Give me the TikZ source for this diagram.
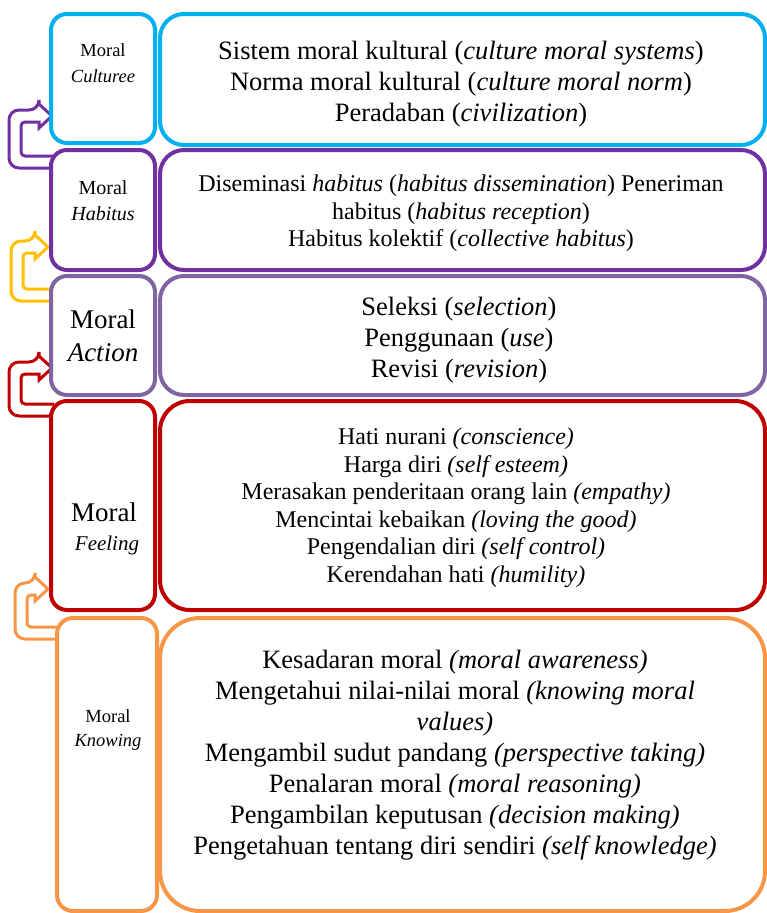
\documentclass[tikz,border=0pt]{standalone}
\usepackage{fontspec}
\setmainfont{Liberation Serif}
\definecolor{cCulture}{HTML}{00B0F0}
\definecolor{cHabitus}{HTML}{7030A0}
\definecolor{cAction}{HTML}{8064A2}
\definecolor{cFeeling}{HTML}{C00000}
\definecolor{cKnowing}{HTML}{F79646}
\definecolor{cYellow}{HTML}{FFC000}
% hollow U-turn arrow: #1 colour, #2 x of vertical leg, #3 y of upper leg,
% #4 y of lower leg, #5 x where the lower leg ends, #6 x of the tip
\newcommand{\uturnarrow}[6]{%
  \draw[line width=3pt, draw=#1, fill=white, line join=miter]
    (#5,#4+6) [rounded corners=10pt] -- (#2-6,#4+6) -- (#2-6,#3-6) -- (#6-13,#3-6)
    [sharp corners] -- (#6-13,#3-12) -- (#6,#3) -- (#6-13,#3+12) -- (#6-13,#3+6)
    [rounded corners=4pt] -- (#2+6,#3+6) -- (#2+6,#4-6) -- (#5,#4-6);}
\begin{document}
\begin{tikzpicture}[x=1pt,y=-1pt,
  lbox/.style={draw=#1, line width=4pt, fill=white, rounded corners=16pt},
  rbox/.style={draw=#1, line width=4pt, fill=white, rounded corners=24pt},
  txt/.style={align=center, inner sep=0pt}]
\useasboundingbox (0,0) rectangle (767,913);

% connecting arrows (drawn first, the boxes cover their ends)
\uturnarrow{cHabitus}{15}{116}{162}{54}{52}
\uturnarrow{cYellow}{17}{247}{295}{54}{48}
\uturnarrow{cFeeling}{15}{368}{410}{54}{52}
\uturnarrow{cKnowing}{21}{589}{633}{58}{48}

% Moral Culture
\draw[lbox=cCulture] (51,14) rectangle (155,143);
\draw[rbox=cCulture] (160,14) rectangle (765,145);
\node[txt, font=\fontsize{18.5}{26}\selectfont] (lc) at (103,63) {Moral\\\textit{Culturee}};
\node[txt, font=\fontsize{26.5}{31}\selectfont] (tc) at (461,84)
  {Sistem moral kultural (\textit{culture moral systems})\\
   Norma moral kultural (\textit{culture moral norm})\\
   Peradaban (\textit{civilization})};

% Moral Habitus
\draw[lbox=cHabitus] (51,150) rectangle (155,270);
\draw[rbox=cHabitus] (160,150) rectangle (765,270);
\node[txt, font=\fontsize{20}{26}\selectfont] (lh) at (103,201) {Moral\\\textit{Habitus}};
\node[txt, font=\fontsize{24}{27.5}\selectfont] (th) at (461,213.5)
  {Diseminasi \textit{habitus} (\textit{habitus dissemination}) Peneriman\\
   habitus (\textit{habitus reception})\\
   Habitus kolektif (\textit{collective habitus})};

% Moral Action
\draw[lbox=cAction] (51,276) rectangle (155,395);
\draw[rbox=cAction] (160,276) rectangle (765,395);
\node[txt, font=\fontsize{27}{33}\selectfont] (la) at (103,336) {Moral\\\textit{Action}};
\node[txt, font=\fontsize{26.5}{31}\selectfont] (ta) at (459,340)
  {Seleksi (\textit{selection})\\
   Penggunaan (\textit{use})\\
   Revisi (\textit{revision})};

% Moral Feeling
\draw[lbox=cFeeling] (51,401) rectangle (155,610);
\draw[rbox=cFeeling, rounded corners=30pt] (160,401) rectangle (765,610);
\node[txt, font=\fontsize{27}{30}\selectfont] (lf) at (104,512) {Moral};
\node[txt, font=\fontsize{21}{24}\selectfont\itshape] (lf2) at (107,545) {Feeling};
\node[txt, font=\fontsize{24}{27.5}\selectfont] (tf) at (456,508)
  {Hati nurani \textit{(conscience)}\\
   Harga diri \textit{(self esteem)}\\
   Merasakan penderitaan orang lain \textit{(empathy)}\\
   Mencintai kebaikan \textit{(loving the good)}\\
   Pengendalian diri \textit{(self control)}\\
   Kerendahan hati \textit{(humility)}};

% Moral Knowing
\draw[lbox=cKnowing] (57,618) rectangle (157,911);
\draw[rbox=cKnowing, rounded corners=40pt] (160,618) rectangle (765,911);
\node[txt, font=\fontsize{18.5}{24}\selectfont] (lk) at (108,730) {Moral\\\textit{Knowing}};
\node[txt, font=\fontsize{26.5}{31}\selectfont] (tk) at (455,755)
  {Kesadaran moral \textit{(moral awareness)}\\
   Mengetahui nilai-nilai moral \textit{(knowing moral}\\
   \textit{values)}\\
   Mengambil sudut pandang \textit{(perspective taking)}\\
   Penalaran moral \textit{(moral reasoning)}\\
   Pengambilan keputusan \textit{(decision making)}\\
   Pengetahuan tentang diri sendiri \textit{(self knowledge)}};
\end{tikzpicture}
\end{document}
